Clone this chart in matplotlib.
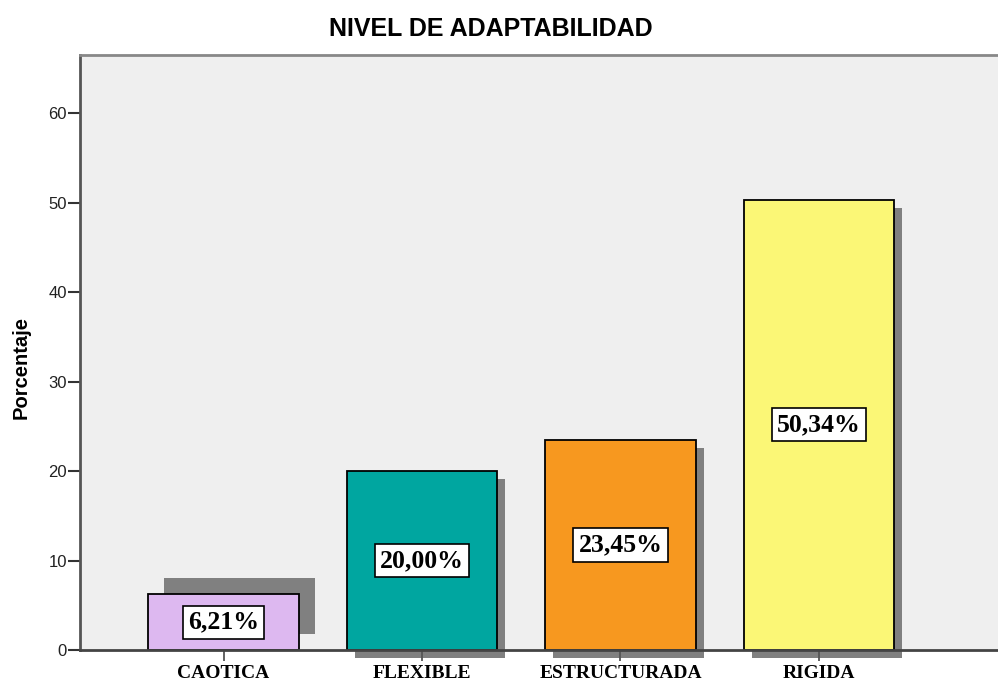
"""
Nivel de adaptabilidad - grafico de barras estilo SPSS
"""
import matplotlib
matplotlib.use("Agg")
import matplotlib.pyplot as plt
from matplotlib.transforms import ScaledTranslation

categories = ["CAOTICA", "FLEXIBLE", "ESTRUCTURADA", "RIGIDA"]
percent = [6.21, 20.00, 23.45, 50.34]
labels = ["6,21%", "20,00%", "23,45%", "50,34%"]
yticks = [0, 10, 20, 30, 40, 50, 60]

colors = ["#ddb8f0", "#00a6a0", "#f7981f", "#fbf776"]
# desplazamiento de la sombra en pixeles (x, y) -- la primera sale hacia arriba
shadow_dx = [16, 8, 8, 8]
shadow_dy = [16, -8, -8, -8]

fig = plt.figure(figsize=(9.98, 6.81), dpi=100)
ax = fig.add_axes([80/998, 31/681, 918/998, 595/681])
ax.set_facecolor("#efefef")

x = list(range(len(categories)))
width = 0.756

# sombras
shadows = ax.bar(x, percent, width=width, color="#808080", zorder=1, linewidth=0)
for p, dx, dy in zip(shadows, shadow_dx, shadow_dy):
	p.set_transform(ax.transData + ScaledTranslation(dx/100, dy/100, fig.dpi_scale_trans))
	p.set_clip_on(False)

bars = ax.bar(x, percent, width=width, color=colors, edgecolor="black", linewidth=1.3, zorder=2)

for xi, v, lab in zip(x, percent, labels):
	ax.text(xi, v/2, lab, ha="center", va="center", fontsize=18.5, fontweight="bold",
		family="Liberation Serif", zorder=4,
		bbox=dict(boxstyle="square,pad=0.2", facecolor="white", edgecolor="black", linewidth=1.2))

ax.set_xlim(-0.723, 3.902)
ax.set_ylim(0, 66.5)
ax.set_yticks(yticks)
ax.set_yticklabels([str(t) for t in yticks], fontsize=12, family="Liberation Sans", color="#222222")
ax.set_xticks(x)
ax.set_xticklabels(categories, fontsize=14, fontweight="bold", family="Liberation Serif")
ax.tick_params(axis="y", length=8.5, width=1.5, color="#333333", pad=1)
ax.tick_params(axis="x", length=8, width=1.3, color="#555555", pad=3)

ax.spines["right"].set_visible(False)
ax.spines["left"].set_color("#555555")
ax.spines["left"].set_linewidth(2)
ax.spines["top"].set_color("#888888")
ax.spines["top"].set_linewidth(2)
ax.spines["bottom"].set_color("#444444")
ax.spines["bottom"].set_linewidth(2)

fig.text(0.492, 0.957, "NIVEL DE ADAPTABILIDAD", ha="center", va="center",
	fontsize=18, fontweight="bold", family="Liberation Sans")
fig.text(0.021, 0.461, "Porcentaje", ha="center", va="center", rotation=90,
	fontsize=14.5, fontweight="bold", family="Liberation Sans")

fig.savefig("out.png", dpi=100)
